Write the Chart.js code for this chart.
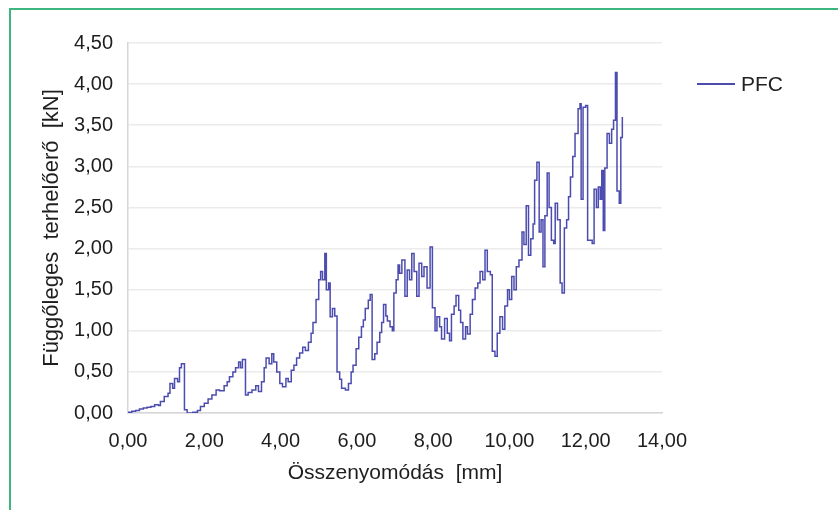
<!DOCTYPE html>
<html>
<head>
<meta charset="utf-8">
<script src="https://cdn.jsdelivr.net/npm/chart.js@4.4.1/dist/chart.umd.min.js"></script>
<style>
    html, body { margin: 0; padding: 0; background: #fff; }
    #wrap { position: relative; width: 838px; height: 510px; overflow: hidden; }
    #frame {
        position: absolute; left: 9px; top: 8px; width: 840px; height: 510px;
        border-top: 2px solid #3cb57f; border-left: 2px solid #3cb57f;
        box-sizing: border-box; pointer-events: none;
    }
    #legend {
        position: absolute; left: 697px; top: 72px;
        font-family: "Liberation Sans", Arial, sans-serif; font-size: 21px; color: #222;
        display: flex; align-items: center;
    }
    #legend .swatch { width: 38px; height: 0; border-top: 2px solid #4c4cb0; margin-right: 6px; }
</style>
</head>
<body>
<div id="wrap">
    <canvas id="chart" width="838" height="510"></canvas>
    <div id="frame"></div>
    <div id="legend"><span class="swatch"></span><span>PFC</span></div>
</div>
<script>
// --- Data ---
const seriesName = "PFC";
const displacement = [
    0, 0.1, 0.2, 0.3, 0.4, 0.5, 0.6, 0.7, 0.8, 0.85, 0.95, 1.05, 1.1, 1.17, 1.22, 1.3, 1.35, 1.4,
    1.48, 1.55, 1.7, 1.82, 1.9, 2.0, 2.1, 2.2, 2.31, 2.4, 2.52, 2.6, 2.66, 2.75, 2.82, 2.9, 2.95, 3.0,
    3.08, 3.15, 3.25, 3.35, 3.42, 3.5, 3.57, 3.62, 3.7, 3.77, 3.82, 3.9, 3.98, 4.05, 4.14, 4.2, 4.28,
    4.35, 4.42, 4.5, 4.58, 4.65, 4.73, 4.8, 4.85, 4.93, 5.0, 5.05, 5.1, 5.16, 5.2, 5.26, 5.3, 5.36,
    5.42, 5.48, 5.55, 5.6, 5.7, 5.78, 5.85, 5.9, 5.98, 6.05, 6.12, 6.17, 6.22, 6.3, 6.35, 6.4, 6.47,
    6.53, 6.6, 6.65, 6.7, 6.76, 6.8, 6.87, 6.93, 6.97, 7.03, 7.08, 7.12, 7.18, 7.26, 7.32, 7.38, 7.44,
    7.5, 7.57, 7.63, 7.7, 7.76, 7.84, 7.92, 7.98, 8.05, 8.1, 8.17, 8.22, 8.3, 8.37, 8.43, 8.48, 8.55,
    8.6, 8.67, 8.72, 8.78, 8.85, 8.9, 8.97, 9.03, 9.1, 9.17, 9.23, 9.3, 9.36, 9.42, 9.5, 9.55, 9.62,
    9.68, 9.75, 9.82, 9.88, 9.95, 10.0, 10.06, 10.12, 10.18, 10.25, 10.33, 10.38, 10.44, 10.5, 10.56,
    10.62, 10.66, 10.72, 10.78, 10.83, 10.88, 10.93, 10.99, 11.04, 11.1, 11.16, 11.2, 11.26, 11.33,
    11.38, 11.44, 11.5, 11.55, 11.6, 11.66, 11.72, 11.8, 11.85, 11.88, 11.93, 12.0, 12.05, 12.17,
    12.22, 12.28, 12.33, 12.38, 12.42, 12.46, 12.5, 12.56, 12.62, 12.68, 12.73, 12.78, 12.82, 12.88,
    12.92, 12.96
];
const force = [
    0.01, 0.02, 0.03, 0.05, 0.06, 0.07, 0.08, 0.1, 0.09, 0.14, 0.2, 0.24, 0.36, 0.3, 0.42, 0.38, 0.55, 0.6,
    0.04, 0.0, 0.01, 0.03, 0.08, 0.12, 0.17, 0.22, 0.28, 0.27, 0.33, 0.38, 0.44, 0.5, 0.55, 0.62, 0.55, 0.65,
    0.22, 0.25, 0.28, 0.33, 0.26, 0.38, 0.55, 0.67, 0.6, 0.72, 0.62, 0.5, 0.36, 0.32, 0.42, 0.38, 0.52,
    0.58, 0.67, 0.73, 0.8, 0.76, 0.86, 0.97, 1.1, 1.38, 1.62, 1.72, 1.62, 1.94, 1.5, 1.58, 1.17, 1.27,
    1.18, 0.5, 0.41, 0.3, 0.28, 0.36, 0.5, 0.58, 0.78, 0.92, 1.05, 1.13, 1.27, 1.37, 1.44, 0.65, 0.72,
    0.86, 0.98, 1.1, 1.32, 1.18, 1.12, 1.05, 1.0, 1.46, 1.62, 1.8, 1.7, 1.86, 1.42, 1.74, 1.62, 1.94,
    1.72, 1.42, 1.82, 1.66, 1.78, 1.52, 2.02, 1.28, 1.0, 1.17, 1.05, 0.9, 1.15, 0.97, 0.88, 1.2, 1.3,
    1.43, 1.25, 1.1, 0.9, 1.05, 0.96, 1.2, 1.38, 1.52, 1.58, 1.72, 1.62, 1.98, 1.72, 1.68, 0.75, 0.69,
    0.97, 1.17, 1.02, 1.3, 1.5, 1.38, 1.66, 1.5, 1.78, 1.86, 2.2, 2.05, 2.52, 1.92, 2.12,
    2.3, 2.83, 3.05, 2.2, 2.35, 1.78, 2.4, 2.92, 2.5, 2.1, 2.06, 2.55, 2.35, 1.58,
    1.46, 2.25, 2.35, 2.63, 2.87, 3.12, 3.4, 3.7, 3.76, 2.6, 3.72, 3.74, 2.1, 2.06,
    2.72, 2.5, 2.75, 2.6, 2.95, 2.22, 2.98, 3.4, 3.28, 3.45, 3.56, 4.14, 2.7, 2.55,
    3.35, 3.6
];
const xTitle = "Összenyomódás  [mm]";
const yTitle = "Függőleges  terhelőerő  [kN]";
const X_MIN = 0, X_MAX = 14, X_STEP = 2;
const Y_MIN = 0, Y_MAX = 4.5, Y_STEP = 0.5;

const LINE_COLOR = "#4c4cb0";
const TEXT_COLOR = "#1e1e1e";
const FONT = "'Liberation Sans', Arial, sans-serif";

const fmt = (v) => v.toFixed(2).replace(".", ",");
const points = displacement.map((x, i) => ({ x, y: force[i] }));

new Chart(document.getElementById("chart"), {
    type: "line",
    data: {
        datasets: [{
            label: seriesName,
            data: points,
            borderColor: LINE_COLOR,
            borderWidth: 1.5,
            pointRadius: 0,
            stepped: "before",
            fill: false,
        }],
    },
    options: {
        responsive: false,
        animation: false,
        layout: { padding: { left: 39, top: 43, right: 176, bottom: 24 } },
        plugins: { legend: { display: false }, tooltip: { enabled: false } },
        scales: {
            x: {
                type: "linear",
                min: X_MIN,
                max: X_MAX,
                afterFit: (s) => { s.height = 73; },
                grid: { display: false, drawTicks: false },
                border: { display: true, color: "#d6d6d6", width: 1.5 },
                ticks: {
                    stepSize: X_STEP,
                    padding: 16,
                    color: TEXT_COLOR,
                    font: { family: FONT, size: 20 },
                    callback: (v) => fmt(v),
                },
                title: {
                    display: true,
                    text: xTitle,
                    color: TEXT_COLOR,
                    font: { family: FONT, size: 21 },
                    padding: 0,
                },
            },
            y: {
                min: Y_MIN,
                max: Y_MAX,
                afterFit: (s) => { s.width = 89; },
                grid: { color: "#ebebeb", lineWidth: 1.5, drawTicks: false },
                border: { display: true, color: "#d6d6d6", width: 1.5 },
                ticks: {
                    stepSize: Y_STEP,
                    padding: 15,
                    color: TEXT_COLOR,
                    font: { family: FONT, size: 20 },
                    callback: (v) => fmt(v),
                },
                title: {
                    display: true,
                    text: yTitle,
                    color: TEXT_COLOR,
                    font: { family: FONT, size: 22 },
                    padding: 0,
                },
            },
        },
    },
});
</script>
</body>
</html>
